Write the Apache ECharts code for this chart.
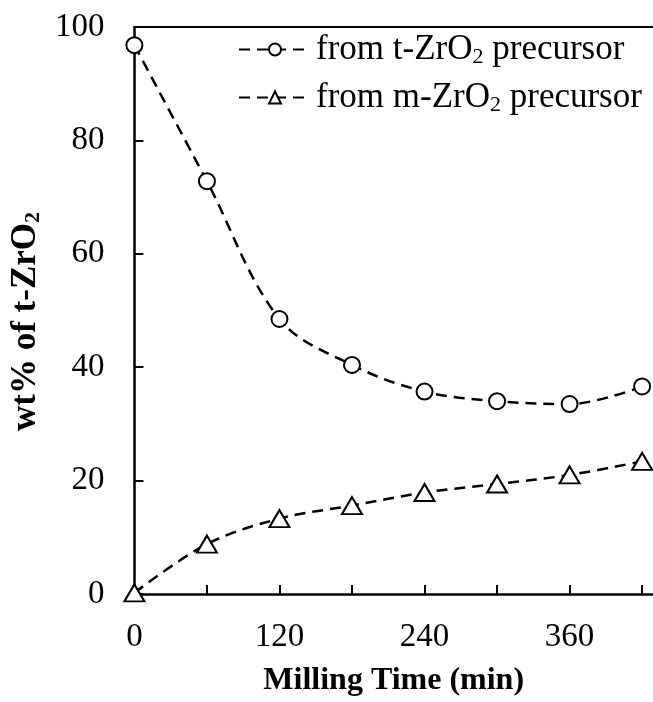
<!DOCTYPE html>
<html><head><meta charset="utf-8">
<script src="https://cdn.jsdelivr.net/npm/echarts@6/dist/echarts.min.js"></script>
<style>html,body{margin:0;padding:0;background:#fff}#c{width:653px;height:702px}</style>
</head><body><div id="c"></div>
<script>
const milling = [0, 60, 120, 180, 240, 300, 360, 420];
const fromT = [96.8, 72.8, 48.5, 40.4, 35.7, 34.0, 33.5, 36.6];
const fromM = [0.2, 8.8, 13.3, 15.6, 17.9, 19.4, 21.0, 23.4];
const xTickLabels = [0, 120, 240, 360];
const yTickLabels = [0, 20, 40, 60, 80, 100];
const seriesNames = ['from t-ZrO2 precursor', 'from m-ZrO2 precursor'];

const font = 'Liberation Serif';
const chart = echarts.init(document.getElementById('c'), null, {renderer: 'canvas'});
const lineStyle = {color: '#000', width: 2.5, type: [11, 7]};
function pairs(ys) { return milling.map((x, i) => [x, ys[i]]); }
chart.setOption({
  animation: false,
  backgroundColor: '#fff',
  grid: {left: 131, top: 27, right: 0, bottom: 102, containLabel: false},
  legend: {
    data: seriesNames,
    orient: 'vertical',
    left: 233, top: 27,
    itemWidth: 72, itemHeight: 15, itemGap: 12,
    textStyle: {fontFamily: font, fontSize: 35, color: '#000',
      rich: {
        a: {fontFamily: font, fontSize: 35, color: '#000'},
        s: {fontFamily: font, fontSize: 22, color: '#000', padding: [15, 0, 0, 0]}
      }},
    formatter: function (n) {
      const p = n.split('2');
      return '{a|' + p[0] + '}{s|2}{a|' + p[1] + '}';
    }
  },
  xAxis: [{
    type: 'value', min: 0, max: 429, interval: 60,
    name: 'Milling Time (min)', nameLocation: 'middle', nameGap: 71,
    nameTextStyle: {fontFamily: font, fontSize: 32, fontWeight: 'bold', color: '#000'},
    axisLine: {lineStyle: {color: '#000', width: 2.5}},
    axisTick: {inside: true, length: 9, lineStyle: {color: '#000', width: 2}},
    splitLine: {show: false},
    axisLabel: {fontFamily: font, fontSize: 33, color: '#000', margin: 27, showMaxLabel: false,
      formatter: v => xTickLabels.indexOf(v) >= 0 ? String(v) : ''}
  }, {
    type: 'value', position: 'top', min: 0, max: 429,
    axisLine: {show: true, onZero: false, lineStyle: {color: '#000', width: 2}},
    axisTick: {show: false}, axisLabel: {show: false}, splitLine: {show: false}
  }],
  yAxis: {
    type: 'value', min: 0, max: 100, interval: 20,
    name: '{b|wt% of t-ZrO}{bs|2}', nameLocation: 'middle', nameGap: 78,
    nameTextStyle: {fontFamily: font, fontSize: 35, fontWeight: 'bold', color: '#000',
      padding: [0, 22, 0, 0],
      rich: {
        b: {fontFamily: font, fontSize: 35, fontWeight: 'bold', color: '#000'},
        bs: {fontFamily: font, fontSize: 22, fontWeight: 'bold', color: '#000', padding: [15, 0, 0, 0]}
      }},
    axisLine: {show: true, lineStyle: {color: '#000', width: 2.5}},
    axisTick: {show: true, inside: true, length: 9, lineStyle: {color: '#000', width: 2}},
    splitLine: {show: false},
    axisLabel: {fontFamily: font, fontSize: 33, color: '#000', margin: 30,
      formatter: v => yTickLabels.indexOf(v) >= 0 ? String(v) : ''}
  },
  series: [{
    name: seriesNames[0], type: 'line', data: pairs(fromT), smooth: 0.35,
    symbol: 'circle', symbolSize: 16, showAllSymbol: true,
    itemStyle: {color: '#fff', borderColor: '#000', borderWidth: 2},
    lineStyle: lineStyle, z: 3
  }, {
    name: seriesNames[1], type: 'line', data: pairs(fromM), smooth: 0.35,
    symbol: 'triangle', symbolSize: [20, 17], showAllSymbol: true,
    itemStyle: {color: '#fff', borderColor: '#000', borderWidth: 2},
    lineStyle: lineStyle, z: 3
  }]
});
</script></body></html>
